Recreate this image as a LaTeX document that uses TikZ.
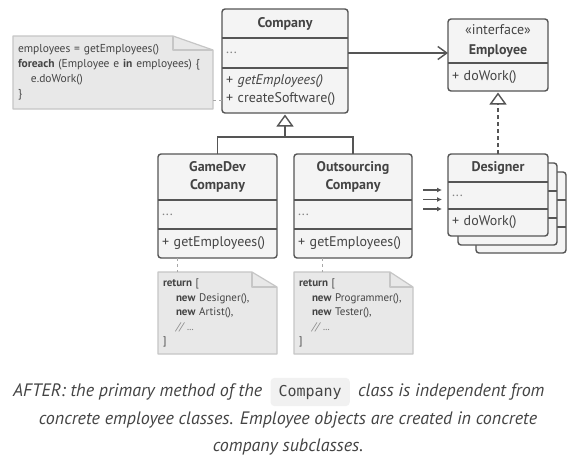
\documentclass[tikz,border=0pt]{standalone}
\usepackage{fontspec}
\setmainfont{PT Sans}
\setmonofont{DejaVu Sans Mono}
\usepackage{xcolor}
\usepackage{tikz}
\usetikzlibrary{arrows.meta,positioning,calc,backgrounds}
\definecolor{umlline}{RGB}{85,85,85}
\definecolor{umlfill}{RGB}{244,244,244}
\definecolor{umltext}{RGB}{68,68,68}
\definecolor{notefill}{RGB}{232,232,232}
\definecolor{noteline}{RGB}{198,198,198}
\definecolor{chipfill}{RGB}{241,241,241}

\tikzset{
  umlframe/.style={draw=umlline, line width=1.4pt, fill=umlfill, rounded corners=3pt, inner sep=0pt, outer sep=0pt},
  umlhead/.style={inner sep=0pt, outer sep=0pt, text=umltext, align=center, font=\fontsize{14}{18}\selectfont\bfseries},
  umlrows/.style={inner xsep=4pt, inner ysep=0pt, outer sep=0pt, text width=#1, align=left, text=umltext, font=\fontsize{14}{18}\selectfont},
  divider/.style={draw=umlline, line width=1.4pt},
  notetext/.style={inner xsep=5pt, inner ysep=0pt, outer sep=0pt, text width=#1, align=left, text=umltext, font=\fontsize{11}{14.5}\selectfont},
  noteframe/.style={draw=noteline, line width=1.2pt, fill=notefill, line join=round},
  notelink/.style={draw=noteline!85!black, line width=1pt, dash pattern=on 3pt off 3pt},
  assoc/.style={draw=umlline, line width=1.4pt, -{Straight Barb[length=9pt,width=13pt,line width=1.4pt]}},
  generalize/.style={draw=umlline, line width=1.4pt},
  realize/.style={draw=umlline, line width=1.4pt, dash pattern=on 4pt off 3pt},
  makes/.style={draw=umlline, line width=1.4pt, -{Latex[length=5pt,width=5pt]}},
  hollow/.tip={Triangle[open,length=12pt,width=17pt,line width=1.4pt]},
  caption/.style={inner sep=0pt, text=umltext, font=\fontsize{18}{22}\selectfont\itshape},
  chip/.style={fill=chipfill, rounded corners=4pt, inner xsep=8pt, inner ysep=7pt, text=umltext, font=\ttfamily\fontsize{15}{18}\selectfont},
}
\newcommand{\faint}[1]{\textcolor{umltext!65}{#1}}

\begin{document}
\begin{tikzpicture}[x=1pt,y=-1pt]
  \useasboundingbox (0,0) rectangle (576,455);

  % base class
  \node[umlframe, minimum width=126, minimum height=104, anchor=north west] (company) at (222,9) {};
  \node[umlhead, minimum width=126, minimum height=29, anchor=north] (company-h) at (company.north) {Company};
  \node[umlrows=118pt, minimum height=30, below=0pt of company-h] (company-a) {\faint{...}};
  \node[umlrows=118pt, minimum height=45, below=0pt of company-a] (company-m) {+ \textit{getEmployees()}\\+ createSoftware()};
  \draw[divider] (company-h.south west) -- (company-h.south east);
  \draw[divider] (company-a.south west) -- (company-a.south east);

  % interface
  \node[umlframe, minimum width=100, minimum height=72, anchor=north west] (employee) at (448,19) {};
  \node[umlhead, minimum width=100, minimum height=44, anchor=north, font=\fontsize{14}{20}\selectfont\bfseries] (employee-h) at (employee.north) {{\mdseries «interface»}\\Employee};
  \node[umlrows=92pt, minimum height=28, below=0pt of employee-h] (employee-m) {+ doWork()};
  \draw[divider] (employee-h.south west) -- (employee-h.south east);

  % subclasses
  \node[umlframe, minimum width=119, minimum height=104, anchor=north west] (gamedev) at (158,154) {};
  \node[umlhead, minimum width=119, minimum height=46, anchor=north] (gamedev-h) at (gamedev.north) {GameDev\\Company};
  \node[umlrows=111pt, minimum height=29, below=0pt of gamedev-h] (gamedev-a) {\faint{...}};
  \node[umlrows=111pt, minimum height=29, below=0pt of gamedev-a] (gamedev-m) {+ getEmployees()};
  \draw[divider] (gamedev-h.south west) -- (gamedev-h.south east);
  \draw[divider] (gamedev-a.south west) -- (gamedev-a.south east);

  \node[umlframe, minimum width=118, minimum height=104, anchor=north west] (outsourcing) at (294,154) {};
  \node[umlhead, minimum width=118, minimum height=46, anchor=north] (outsourcing-h) at (outsourcing.north) {Outsourcing\\Company};
  \node[umlrows=110pt, minimum height=29, below=0pt of outsourcing-h] (outsourcing-a) {\faint{...}};
  \node[umlrows=110pt, minimum height=29, below=0pt of outsourcing-a] (outsourcing-m) {+ getEmployees()};
  \draw[divider] (outsourcing-h.south west) -- (outsourcing-h.south east);
  \draw[divider] (outsourcing-a.south west) -- (outsourcing-a.south east);

  % stack of designer objects
  \node[umlframe, minimum width=90, minimum height=81, anchor=north west] (designer-3) at (476,172) {};
  \draw[divider] ($(designer-3.north west)+(0,28)$) -- ($(designer-3.north east)+(0,28)$);
  \draw[divider] ($(designer-3.north west)+(0,55)$) -- ($(designer-3.north east)+(0,55)$);
  \node[umlframe, minimum width=99, minimum height=82, anchor=north west] (designer-2) at (458,163) {};
  \draw[divider] ($(designer-2.north west)+(0,28)$) -- ($(designer-2.north east)+(0,28)$);
  \draw[divider] ($(designer-2.north west)+(0,55)$) -- ($(designer-2.north east)+(0,55)$);
  \node[umlframe, minimum width=100, minimum height=82, anchor=north west] (designer) at (448,154) {};
  \node[umlhead, minimum width=100, minimum height=28, anchor=north] (designer-h) at (designer.north) {Designer};
  \node[umlrows=92pt, minimum height=27, below=0pt of designer-h] (designer-a) {\faint{...}};
  \node[umlrows=92pt, minimum height=27, below=0pt of designer-a] (designer-m) {+ doWork()};
  \draw[divider] (designer-h.south west) -- (designer-h.south east);
  \draw[divider] (designer-a.south west) -- (designer-a.south east);

  % notes
  \node[notetext=190pt, font=\fontsize{11.5}{15}\selectfont, minimum height=73, anchor=north west] (note-company) at (13,36)
    {employees = getEmployees()\\\textbf{foreach} (Employee e \textbf{in} employees) \{\\\hspace*{13pt}e.doWork()\\\}};
  \node[notetext=109pt, minimum height=82, anchor=north west] (note-gamedev) at (158,272)
    {\textbf{return} [\\\hspace*{13pt}\textbf{new} Designer(),\\\hspace*{13pt}\textbf{new} Artist(),\\\hspace*{13pt}\faint{\textit{// ...}}\\]};
  \node[notetext=109pt, minimum height=82, anchor=north west] (note-outsourcing) at (294,272)
    {\textbf{return} [\\\hspace*{13pt}\textbf{new} Programmer(),\\\hspace*{13pt}\textbf{new} Tester(),\\\hspace*{13pt}\faint{\textit{// ...}}\\]};
  \begin{scope}[on background layer]
    \fill[white] (0,0) rectangle (576,455);
    \foreach \n/\fw/\fh in {note-company/40/14, note-gamedev/25/15, note-outsourcing/23/15} {
      \draw[noteframe] (\n.north west) -- ($(\n.north east)+(-\fw,0)$) -- ($(\n.north east)+(0,\fh)$)
        -- (\n.south east) -- (\n.south west) -- cycle;
      \draw[noteframe, fill=none] ($(\n.north east)+(-\fw,0)$) |- ($(\n.north east)+(0,\fh)$);
    }
  \end{scope}
  \coordinate (link-c) at ($(note-company.south east)+(0,-9)$);
  \draw[notelink] (link-c) -- (link-c -| company.west);
  \draw[notelink] ($(gamedev.south west)+(19,0)$) -- ($(note-gamedev.north west)+(19,0)$);
  \draw[notelink] ($(outsourcing.south west)+(28,0)$) -- ($(note-outsourcing.north west)+(28,0)$);

  % relations
  \draw[assoc] (company-a.east) -- (company-a.east -| employee.west);
  \coordinate (bar) at ($(company.south)+(0,24)$);
  \draw[generalize] (gamedev.north) |- (bar) -| (outsourcing.north);
  \draw[generalize, -hollow, shorten >=1.5pt] (bar) -- (company.south);
  \draw[realize, -hollow, shorten >=1.5pt] (designer.north) -- (employee.south);
  \foreach \k/\yy in {1/190,2/199.5,3/209} {
    \coordinate (make-s\k) at (423,\yy);
    \coordinate (make-e\k) at (442,\yy);
    \draw[makes] (make-s\k) -- (make-e\k);
  }

  % caption
  \node[caption, anchor=base west] (cap-a) at (13,396) {AFTER: the primary method of the};
  \node[chip, anchor=base west] (cap-code) at ($(cap-a.base east)+(8,0)$) {Company};
  \node[caption, anchor=base west] (cap-b) at ($(cap-code.base east)+(8,0)$) {class is independent from};
  \node[caption] (cap-2) at (288,420) {concrete employee classes. Employee objects are created in concrete};
  \node[caption] (cap-3) at (288,447) {company subclasses.};
\end{tikzpicture}
\end{document}
